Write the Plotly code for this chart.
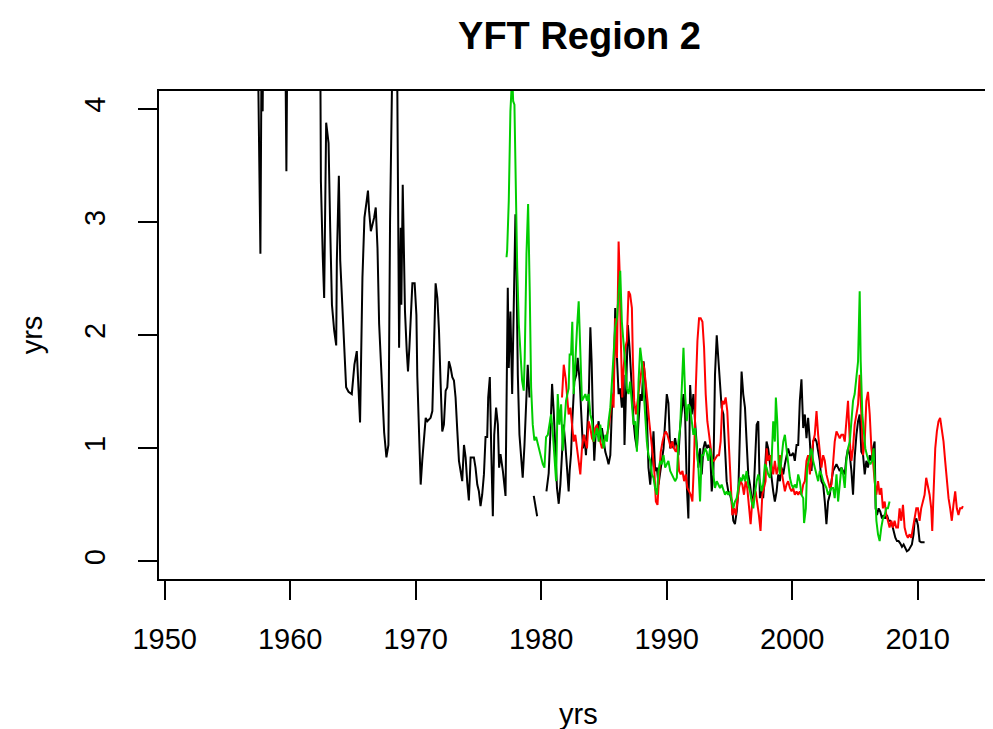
import plotly.graph_objects as go

# black series (years, values); None = gap in the record
black_yrs = [
    1957.40, 1957.50, 1957.63, 1957.72, 1957.81, 1957.90, 1958.10, 1958.40, 1958.70, 1959.00,
    1959.30, 1959.60, 1959.70, 1959.80, 1960.10, 1960.50, 1960.90, 1961.30, 1961.70, 1962.38,
    1962.45, 1962.60, 1962.71, 1962.87, 1963.06, 1963.19, 1963.33, 1963.51, 1963.67, 1963.72,
    1963.88, 1963.99, 1964.15, 1964.31, 1964.46, 1964.65, 1964.91, 1965.12, 1965.31, 1965.44,
    1965.57, 1965.76, 1965.92, 1966.10, 1966.20, 1966.29, 1966.43, 1966.56, 1966.69, 1966.82,
    1966.96, 1967.09, 1967.22, 1967.35, 1967.49, 1967.67, 1967.83, 1967.96, 1968.09, 1968.28,
    1968.50, 1968.60, 1968.68, 1968.81, 1968.86, 1968.97, 1969.07, 1969.15, 1969.29, 1969.39,
    1969.50, 1969.63, 1969.74, 1969.92, 1970.06, 1970.13, 1970.27, 1970.40, 1970.53, 1970.66,
    1970.80, 1970.93, 1971.06, 1971.19, 1971.33, 1971.46, 1971.59, 1971.73, 1971.86, 1971.99,
    1972.12, 1972.25, 1972.39, 1972.52, 1972.65, 1972.79, 1972.92, 1973.05, 1973.18, 1973.32,
    1973.45, 1973.58, 1973.71, 1973.85, 1973.98, 1974.11, 1974.24, 1974.38, 1974.51, 1974.64,
    1974.77, 1974.91, 1975.04, 1975.17, 1975.30, 1975.44, 1975.57, 1975.70, 1975.78, 1975.91,
    1976.02, 1976.15, 1976.26, 1976.41, 1976.55, 1976.65, 1976.76, 1976.95, 1977.16, 1977.24,
    1977.34, 1977.42, 1977.55, 1977.69, 1977.82, 1977.95, 1978.03, 1978.14, 1978.27, 1978.40,
    1978.53, 1978.67, 1978.80, 1978.93, 1979.07, 1979.20, 1979.41, 1979.54, 1979.68, 1980.00,
    1980.42, 1980.60, 1980.73, 1980.87, 1981.00, 1981.13, 1981.26, 1981.40, 1981.53, 1981.66,
    1981.79, 1981.93, 1982.06, 1982.19, 1982.27, 1982.38, 1982.48, 1982.64, 1982.80, 1982.91,
    1983.07, 1983.23, 1983.33, 1983.44, 1983.57, 1983.70, 1983.81, 1983.92, 1984.02, 1984.13,
    1984.23, 1984.34, 1984.45, 1984.58, 1984.71, 1984.84, 1984.98, 1985.11, 1985.24, 1985.37,
    1985.51, 1985.64, 1985.77, 1985.90, 1986.04, 1986.17, 1986.30, 1986.43, 1986.57, 1986.64,
    1986.78, 1986.91, 1987.04, 1987.15, 1987.25, 1987.36, 1987.49, 1987.63, 1987.76, 1987.89,
    1988.02, 1988.16, 1988.29, 1988.42, 1988.55, 1988.69, 1988.82, 1988.95, 1989.08, 1989.22,
    1989.35, 1989.48, 1989.75, 1990.01, 1990.14, 1990.28, 1990.41, 1990.54, 1990.67, 1990.81,
    1990.94, 1991.07, 1991.20, 1991.34, 1991.47, 1991.60, 1991.73, 1991.87, 1992.00, 1992.13,
    1992.26, 1992.40, 1992.53, 1992.66, 1992.79, 1992.93, 1993.06, 1993.19, 1993.32, 1993.46,
    1993.59, 1993.72, 1993.85, 1993.99, 1994.12, 1994.25, 1994.38, 1994.52, 1994.65, 1994.78,
    1994.91, 1995.05, 1995.18, 1995.31, 1995.44, 1995.58, 1995.71, 1995.84, 1995.97, 1996.10,
    1996.24, 1996.37, 1996.50, 1996.64, 1996.77, 1996.90, 1997.03, 1997.17, 1997.30, 1997.43,
    1997.56, 1997.69, 1997.83, 1997.96, 1998.09, 1998.23, 1998.36, 1998.49, 1998.62, 1998.76,
    1998.89, 1999.02, 1999.15, 1999.29, 1999.42, 1999.55, 1999.68, 1999.82, 1999.95, 2000.08,
    2000.21, 2000.35, 2000.48, 2000.61, 2000.74, 2000.88, 2001.01, 2001.14, 2001.27, 2001.41,
    2001.54, 2001.67, 2001.80, 2001.94, 2002.07, 2002.20, 2002.33, 2002.47, 2002.60, 2002.73,
    2002.86, 2003.00, 2003.13, 2003.26, 2003.39, 2003.53, 2003.66, 2003.79, 2003.92, 2004.06,
    2004.19, 2004.32, 2004.45, 2004.59, 2004.72, 2004.85, 2004.98, 2005.12, 2005.25, 2005.38,
    2005.51, 2005.65, 2005.78, 2005.91, 2006.04, 2006.18, 2006.31, 2006.44, 2006.57, 2006.65,
    2006.76, 2006.89, 2007.02, 2007.16, 2007.29, 2007.42, 2007.55, 2007.69, 2007.82, 2007.95,
    2008.08, 2008.22, 2008.35, 2008.48, 2008.61, 2008.75, 2008.88, 2009.01, 2009.14, 2009.28,
    2009.41, 2009.54, 2009.67, 2009.75, 2009.89, 2010.02, 2010.15, 2010.28, 2010.55,
]
black_vals = [
    4.8, 3.87, 2.72, 4.5, 3.98, 5.5, 6.0, 5.2, 6.5, 5.5,
    6.2, 4.8, 3.45, 5.0, 6.0, 5.4, 6.3, 5.6, 6.0, 5.0,
    3.36, 2.69, 2.33, 3.88, 3.70, 2.95, 2.27, 2.04, 1.91, 2.66,
    3.41, 2.66, 2.24, 1.79, 1.54, 1.50, 1.48, 1.74, 1.86, 1.54,
    1.23, 2.51, 3.04, 3.19, 3.28, 3.10, 2.92, 2.98, 3.04, 3.13,
    2.77, 2.10, 1.77, 1.55, 1.14, 0.92, 1.03, 3.00, 4.6, 5.5,
    4.8, 3.55, 1.89, 2.95, 2.27, 3.33, 2.86, 2.21, 1.86, 1.68,
    1.89, 2.21, 2.46, 2.46, 2.18, 1.64, 1.02, 0.68, 0.90, 1.12,
    1.27, 1.24, 1.26, 1.27, 1.33, 1.92, 2.46, 2.33, 2.04, 1.57,
    1.15, 1.21, 1.51, 1.54, 1.77, 1.71, 1.63, 1.60, 1.45, 1.15,
    0.89, 0.80, 0.71, 1.03, 0.92, 0.70, 0.54, 0.92, 0.92, 0.92,
    0.83, 0.68, 0.62, 0.49, 0.59, 0.77, 1.10, 1.10, 1.45, 1.63,
    1.00, 0.40, 1.12, 1.36, 1.21, 0.83, 0.95, 0.80, 0.58, 1.51,
    2.42, 1.71, 2.21, 1.48, 2.15, 3.07, 2.60, 1.65, 1.12, 0.92,
    0.74, 1.03, 1.39, 1.74, 1.45, None, 0.58, 0.50, 0.40, None,
    0.62, 0.78, 1.12, 1.57, 1.33, 1.03, 0.65, 0.51, 0.68, 0.95,
    1.21, 1.03, 0.83, 0.62, 0.80, 0.95, 1.24, 1.59, 1.65, 1.80,
    1.59, 1.21, 1.00, 1.12, 0.94, 1.24, 1.53, 2.07, 1.77, 1.24,
    0.89, 1.12, 1.15, 1.24, 1.06, 1.18, 1.06, 0.97, 0.92, 0.86,
    0.94, 1.36, 1.50, 2.24, 1.80, 1.48, 1.53, 1.36, 1.65, 1.03,
    1.56, 2.09, 1.89, 1.71, 1.48, 1.24, 1.09, 1.00, 1.30, 1.48,
    1.42, 1.77, 1.59, 1.30, 0.83, 0.68, 0.89, 1.15, 0.80, 0.83,
    0.68, 0.80, 1.00, 1.48, 1.40, 1.00, 1.06, 1.00, 1.09, 1.00,
    0.94, 1.18, 1.30, 1.48, 1.30, 0.68, 0.38, 1.56, 1.30, 1.48,
    1.24, 1.06, 0.83, 1.00, 0.77, 1.00, 1.06, 1.00, 1.03, 1.00,
    0.62, 0.77, 1.65, 2.00, 1.80, 1.59, 1.36, 1.30, 1.00, 0.71,
    0.62, 0.59, 0.53, 0.36, 0.33, 0.44, 0.62, 1.06, 1.68, 1.48,
    1.36, 1.06, 0.77, 0.68, 0.56, 0.53, 0.89, 1.21, 1.24, 0.56,
    0.62, 0.56, 0.80, 1.06, 1.00, 0.86, 0.71, 0.62, 0.53, 0.62,
    0.77, 0.71, 0.83, 0.77, 0.86, 0.94, 1.00, 0.94, 0.94, 0.96,
    0.89, 1.03, 1.03, 1.42, 1.61, 1.18, 1.30, 1.09, 1.27, 1.06,
    0.80, 1.06, 1.09, 1.06, 0.97, 0.89, 0.71, 0.68, 0.53, 0.33,
    0.53, 0.59, 0.71, 0.80, 0.83, 0.86, 0.83, 0.80, 0.83, 0.80,
    0.77, 0.92, 1.00, 0.94, 0.80, 0.59, 0.92, 1.12, 1.24, 1.30,
    0.97, 0.94, 0.77, 0.89, 0.83, 0.94, 0.89, 1.00, 1.06, 0.47,
    0.41, 0.47, 0.44, 0.38, 0.41, 0.38, 0.41, 0.36, 0.36, 0.33,
    0.27, 0.21, 0.18, 0.18, 0.16, 0.13, 0.15, 0.12, 0.09, 0.10,
    0.12, 0.15, 0.24, 0.35, 0.38, 0.32, 0.18, 0.17, 0.17,
]

red_yrs = [
    1981.66, 1981.80, 1981.95, 1982.06, 1982.19, 1982.33, 1982.46, 1982.59, 1982.72, 1982.86,
    1982.99, 1983.12, 1983.25, 1983.39, 1983.52, 1983.65, 1983.78, 1983.92, 1984.05, 1984.18,
    1984.31, 1984.45, 1984.58, 1984.71, 1984.84, 1984.98, 1985.11, 1985.24, 1985.37, 1985.51,
    1985.64, 1985.77, 1985.90, 1986.04, 1986.17, 1986.25, 1986.35, 1986.46, 1986.57, 1986.70,
    1986.83, 1986.96, 1987.09, 1987.23, 1987.31, 1987.41, 1987.55, 1987.68, 1987.81, 1987.94,
    1988.08, 1988.21, 1988.34, 1988.47, 1988.61, 1988.74, 1988.87, 1989.00, 1989.14, 1989.27,
    1989.40, 1989.53, 1989.67, 1989.80, 1989.93, 1990.06, 1990.20, 1990.33, 1990.46, 1990.59,
    1990.73, 1990.86, 1990.99, 1991.12, 1991.26, 1991.39, 1991.52, 1991.65, 1991.79, 1991.92,
    1992.05, 1992.18, 1992.32, 1992.45, 1992.58, 1992.71, 1992.85, 1992.98, 1993.11, 1993.24,
    1993.38, 1993.51, 1993.64, 1993.77, 1993.91, 1994.04, 1994.17, 1994.30, 1994.44, 1994.57,
    1994.70, 1994.83, 1994.97, 1995.10, 1995.23, 1995.36, 1995.50, 1995.63, 1995.76, 1995.89,
    1996.03, 1996.16, 1996.29, 1996.42, 1996.56, 1996.69, 1996.82, 1996.95, 1997.09, 1997.22,
    1997.35, 1997.48, 1997.62, 1997.75, 1997.88, 1997.96, 1998.09, 1998.23, 1998.36, 1998.49,
    1998.62, 1998.76, 1998.89, 1999.02, 1999.15, 1999.29, 1999.42, 1999.55, 1999.68, 1999.82,
    1999.95, 2000.08, 2000.21, 2000.35, 2000.48, 2000.61, 2000.74, 2000.88, 2001.01, 2001.14,
    2001.27, 2001.41, 2001.54, 2001.67, 2001.80, 2001.94, 2002.07, 2002.20, 2002.33, 2002.47,
    2002.60, 2002.73, 2002.86, 2003.00, 2003.13, 2003.26, 2003.39, 2003.53, 2003.66, 2003.79,
    2003.92, 2004.06, 2004.19, 2004.32, 2004.45, 2004.59, 2004.72, 2004.85, 2004.98, 2005.12,
    2005.25, 2005.38, 2005.51, 2005.65, 2005.78, 2005.91, 2006.04, 2006.18, 2006.31, 2006.44,
    2006.57, 2006.71, 2006.84, 2006.97, 2007.10, 2007.23, 2007.37, 2007.50, 2007.63, 2007.76,
    2007.90, 2008.03, 2008.16, 2008.29, 2008.43, 2008.56, 2008.69, 2008.83, 2008.96, 2009.09,
    2009.22, 2009.36, 2009.49, 2009.62, 2009.75, 2009.89, 2010.02, 2010.15, 2010.28, 2010.41,
    2010.55, 2010.68, 2010.81, 2010.95, 2011.08, 2011.16, 2011.26, 2011.40, 2011.53, 2011.66,
    2011.79, 2011.93, 2012.06, 2012.19, 2012.32, 2012.46, 2012.59, 2012.72, 2012.85, 2012.99,
    2013.12, 2013.25, 2013.38, 2013.52, 2013.60,
]
red_vals = [
    1.45, 1.74, 1.62, 1.48, 1.30, 1.36, 1.21, 1.06, 1.12, 1.00,
    0.89, 0.77, 1.00, 1.12, 1.06, 1.00, 1.24, 1.18, 1.09, 1.06,
    1.18, 1.21, 1.12, 1.06, 1.00, 1.06, 1.09, 1.12, 1.18, 1.30,
    1.48, 1.36, 2.15, 1.80, 2.83, 2.57, 1.95, 1.45, 1.71, 1.89,
    1.95, 2.39, 2.36, 2.24, 1.77, 1.42, 1.30, 1.42, 1.53, 1.65,
    1.77, 1.71, 1.53, 1.42, 1.24, 1.12, 1.00, 0.83, 0.53, 0.50,
    0.77, 0.97, 1.06, 1.12, 1.15, 1.12, 1.06, 1.00, 1.06, 1.00,
    0.97, 1.03, 0.80, 0.77, 0.80, 0.71, 0.77, 0.65, 0.62, 0.59,
    0.53, 0.89, 1.53, 1.95, 2.15, 2.15, 2.12, 1.89, 1.48, 1.24,
    1.12, 1.00, 0.89, 0.89, 0.92, 0.94, 0.94, 1.06, 1.42, 1.39,
    1.45, 1.33, 1.00, 0.65, 0.41, 0.47, 0.41, 0.53, 0.65, 0.71,
    0.68, 0.59, 0.71, 0.65, 0.47, 0.33, 0.53, 0.56, 0.62, 0.53,
    0.41, 0.27, 0.59, 0.65, 0.71, 1.00, 0.89, 0.94, 0.83, 0.77,
    0.89, 0.77, 0.83, 0.94, 0.80, 0.71, 0.62, 0.68, 0.71, 0.65,
    0.62, 0.65, 0.59, 0.62, 0.59, 0.62, 0.59, 0.68, 0.71, 0.89,
    0.94, 0.77, 0.94, 1.06, 1.12, 1.33, 1.12, 0.94, 0.83, 0.94,
    0.89, 0.77, 0.71, 0.65, 0.68, 0.89, 1.06, 1.15, 1.12, 1.09,
    1.12, 1.12, 1.06, 1.24, 1.42, 1.06, 0.89, 1.00, 1.21, 1.30,
    1.39, 1.65, 1.36, 0.94, 1.06, 1.42, 1.50, 1.30, 1.00, 0.89,
    0.71, 0.59, 0.71, 0.59, 0.65, 0.47, 0.53, 0.41, 0.36, 0.30,
    0.36, 0.30, 0.36, 0.30, 0.30, 0.47, 0.36, 0.50, 0.30, 0.24,
    0.21, 0.24, 0.21, 0.30, 0.41, 0.47, 0.47, 0.36, 0.47, 0.53,
    0.59, 0.74, 0.68, 0.59, 0.47, 0.27, 0.59, 1.00, 1.15, 1.24,
    1.27, 1.18, 1.06, 0.89, 0.71, 0.56, 0.47, 0.36, 0.50, 0.62,
    0.47, 0.41, 0.47, 0.47, 0.49,
]

green_yrs = [
    1977.24, 1977.29, 1977.42, 1977.55, 1977.69, 1977.77, 1977.87, 1977.95, 1978.09, 1978.22,
    1978.35, 1978.48, 1978.61, 1978.69, 1978.83, 1978.96, 1979.09, 1979.20, 1979.33, 1979.46,
    1979.60, 1979.73, 1979.86, 1980.00, 1980.13, 1980.26, 1980.39, 1980.53, 1980.66, 1980.79,
    1980.92, 1981.06, 1981.19, 1981.32, 1981.45, 1981.59, 1981.72, 1981.85, 1981.98, 1982.19,
    1982.27, 1982.38, 1982.48, 1982.59, 1982.72, 1982.86, 1982.99, 1983.12, 1983.25, 1983.39,
    1983.52, 1983.65, 1983.78, 1983.92, 1984.05, 1984.18, 1984.31, 1984.45, 1984.58, 1984.71,
    1984.84, 1984.98, 1985.11, 1985.24, 1985.37, 1985.51, 1985.64, 1985.77, 1985.90, 1986.04,
    1986.17, 1986.30, 1986.43, 1986.57, 1986.70, 1986.83, 1986.96, 1987.09, 1987.23, 1987.36,
    1987.49, 1987.63, 1987.76, 1987.89, 1988.02, 1988.16, 1988.29, 1988.42, 1988.55, 1988.69,
    1988.82, 1988.95, 1989.08, 1989.22, 1989.35, 1989.48, 1989.61, 1989.75, 1989.88, 1990.01,
    1990.14, 1990.28, 1990.41, 1990.54, 1990.67, 1990.81, 1990.94, 1991.07, 1991.20, 1991.34,
    1991.47, 1991.60, 1991.73, 1991.87, 1992.00, 1992.13, 1992.26, 1992.40, 1992.53, 1992.66,
    1992.79, 1992.93, 1993.06, 1993.19, 1993.32, 1993.46, 1993.59, 1993.72, 1993.85, 1993.99,
    1994.12, 1994.25, 1994.38, 1994.52, 1994.65, 1994.78, 1994.91, 1995.05, 1995.18, 1995.31,
    1995.44, 1995.58, 1995.71, 1995.84, 1995.97, 1996.10, 1996.24, 1996.37, 1996.50, 1996.64,
    1996.77, 1996.90, 1997.03, 1997.17, 1997.30, 1997.43, 1997.56, 1997.69, 1997.83, 1997.96,
    1998.09, 1998.23, 1998.36, 1998.49, 1998.62, 1998.70, 1998.81, 1998.91, 1999.02, 1999.15,
    1999.29, 1999.42, 1999.55, 1999.68, 1999.82, 1999.95, 2000.08, 2000.21, 2000.35, 2000.48,
    2000.61, 2000.74, 2000.88, 2000.95, 2001.09, 2001.19, 2001.30, 2001.41, 2001.54, 2001.67,
    2001.80, 2001.94, 2002.07, 2002.20, 2002.33, 2002.47, 2002.60, 2002.73, 2002.86, 2003.00,
    2003.13, 2003.26, 2003.39, 2003.53, 2003.66, 2003.79, 2003.92, 2004.06, 2004.19, 2004.32,
    2004.45, 2004.59, 2004.72, 2004.85, 2004.98, 2005.12, 2005.25, 2005.38, 2005.46, 2005.59,
    2005.70, 2005.83, 2005.96, 2006.09, 2006.23, 2006.36, 2006.49, 2006.60, 2006.71, 2006.84,
    2006.97, 2007.10, 2007.23, 2007.37, 2007.50, 2007.63, 2007.76,
]
green_vals = [
    2.69, 2.75, 3.19, 3.98, 4.30, 4.07, 4.04, 3.36, 2.60, 2.10,
    1.80, 1.60, 1.51, 1.80, 2.72, 3.16, 2.39, 1.54, 1.21, 1.07,
    1.10, 1.04, 0.98, 0.92, 0.86, 0.83, 1.10, 1.12, 1.21, 1.30,
    1.15, 0.92, 0.71, 1.48, 1.21, 1.39, 0.98, 1.21, 1.42, 1.53,
    1.83, 1.83, 2.12, 1.48, 1.80, 2.07, 2.30, 1.80, 1.42, 1.45,
    1.48, 1.42, 1.48, 1.30, 1.24, 1.06, 1.12, 1.18, 1.06, 1.21,
    1.09, 1.00, 1.12, 1.06, 1.24, 1.36, 1.59, 1.89, 2.07, 2.15,
    2.39, 2.57, 2.12, 1.95, 1.74, 1.53, 1.48, 1.59, 1.36, 1.21,
    1.24, 0.97, 1.59, 1.89, 1.77, 1.48, 1.30, 1.06, 0.94, 0.89,
    0.77, 0.74, 0.65, 0.59, 0.80, 0.89, 0.86, 0.94, 0.83, 0.86,
    0.89, 0.80, 0.77, 0.74, 0.71, 0.74, 1.06, 1.18, 1.48, 1.89,
    1.48, 1.24, 1.39, 1.36, 1.24, 1.12, 1.18, 1.00, 0.83, 0.53,
    0.94, 0.94, 1.00, 0.97, 0.89, 1.00, 0.92, 0.77, 0.65, 0.71,
    0.68, 0.65, 0.68, 0.62, 0.59, 0.62, 0.59, 0.62, 0.53, 0.47,
    0.53, 0.56, 0.65, 0.74, 0.71, 0.77, 0.71, 0.80, 0.68, 0.62,
    0.53, 0.47, 0.59, 0.71, 0.77, 0.71, 0.62, 0.68, 0.86, 0.83,
    0.77, 0.74, 0.89, 1.24, 1.06, 1.45, 1.24, 0.89, 0.77, 0.94,
    1.06, 1.12, 1.00, 0.86, 0.74, 0.68, 0.65, 0.68, 0.65, 0.77,
    0.71, 0.59, 0.56, 0.34, 0.47, 0.83, 0.89, 0.94, 1.00, 0.89,
    0.83, 0.77, 0.71, 0.80, 0.77, 0.71, 0.68, 0.65, 0.59, 0.62,
    0.65, 0.65, 0.56, 0.77, 0.53, 0.68, 0.83, 0.77, 0.65, 0.89,
    1.00, 1.06, 1.21, 1.42, 1.48, 1.65, 1.77, 2.39, 1.77, 1.30,
    1.12, 1.00, 0.94, 0.89, 0.86, 0.89, 1.00, 0.71, 0.36, 0.24,
    0.18, 0.30, 0.38, 0.41, 0.47, 0.47, 0.53,
]

x_ticks = [1950, 1960, 1970, 1980, 1990, 2000, 2010]
y_ticks = [0, 1, 2, 3, 4]

fig = go.Figure()
fig.add_trace(go.Scatter(x=black_yrs, y=black_vals, mode='lines',
                         line=dict(color='black', width=2)))
fig.add_trace(go.Scatter(x=red_yrs, y=red_vals, mode='lines',
                         line=dict(color='#FF0000', width=2)))
fig.add_trace(go.Scatter(x=green_yrs, y=green_vals, mode='lines',
                         line=dict(color='#00CD00', width=2)))

axis_style = dict(showgrid=False, zeroline=False, showline=True, mirror=True,
                  linecolor='black', linewidth=1.5, ticks='outside', ticklen=19,
                  tickwidth=1.5, tickcolor='black',
                  tickfont=dict(size=29, color='black'))

fig.update_layout(
    width=993, height=729,
    margin=dict(l=151, r=1, t=83, b=158),
    plot_bgcolor='white', paper_bgcolor='white',
    font=dict(family='Arial, Liberation Sans, sans-serif', color='black'),
    showlegend=False,
    title=dict(text='<b>YFT Region 2</b>', x=0.5755, xanchor='center',
               y=1 - 28 / 729, yanchor='middle', font=dict(size=38)),
    xaxis=dict(range=[1949.55, 2016.4], tickvals=x_ticks, ticklabelstandoff=14,
               **axis_style),
    yaxis=dict(range=[-0.155, 4.16], tickvals=y_ticks, tickangle=-90,
               ticklabelstandoff=22, **axis_style),
    annotations=[
        dict(text='yrs', xref='paper', yref='paper', x=0.5, y=(571 - 706) / 488,
             showarrow=False, font=dict(size=29), xanchor='center', yanchor='middle'),
        dict(text='yrs', xref='paper', yref='paper', x=(24 - 151) / 841, y=0.5,
             textangle=-90, showarrow=False, font=dict(size=29),
             xanchor='center', yanchor='middle'),
    ],
)

fig.write_html("out.html")
